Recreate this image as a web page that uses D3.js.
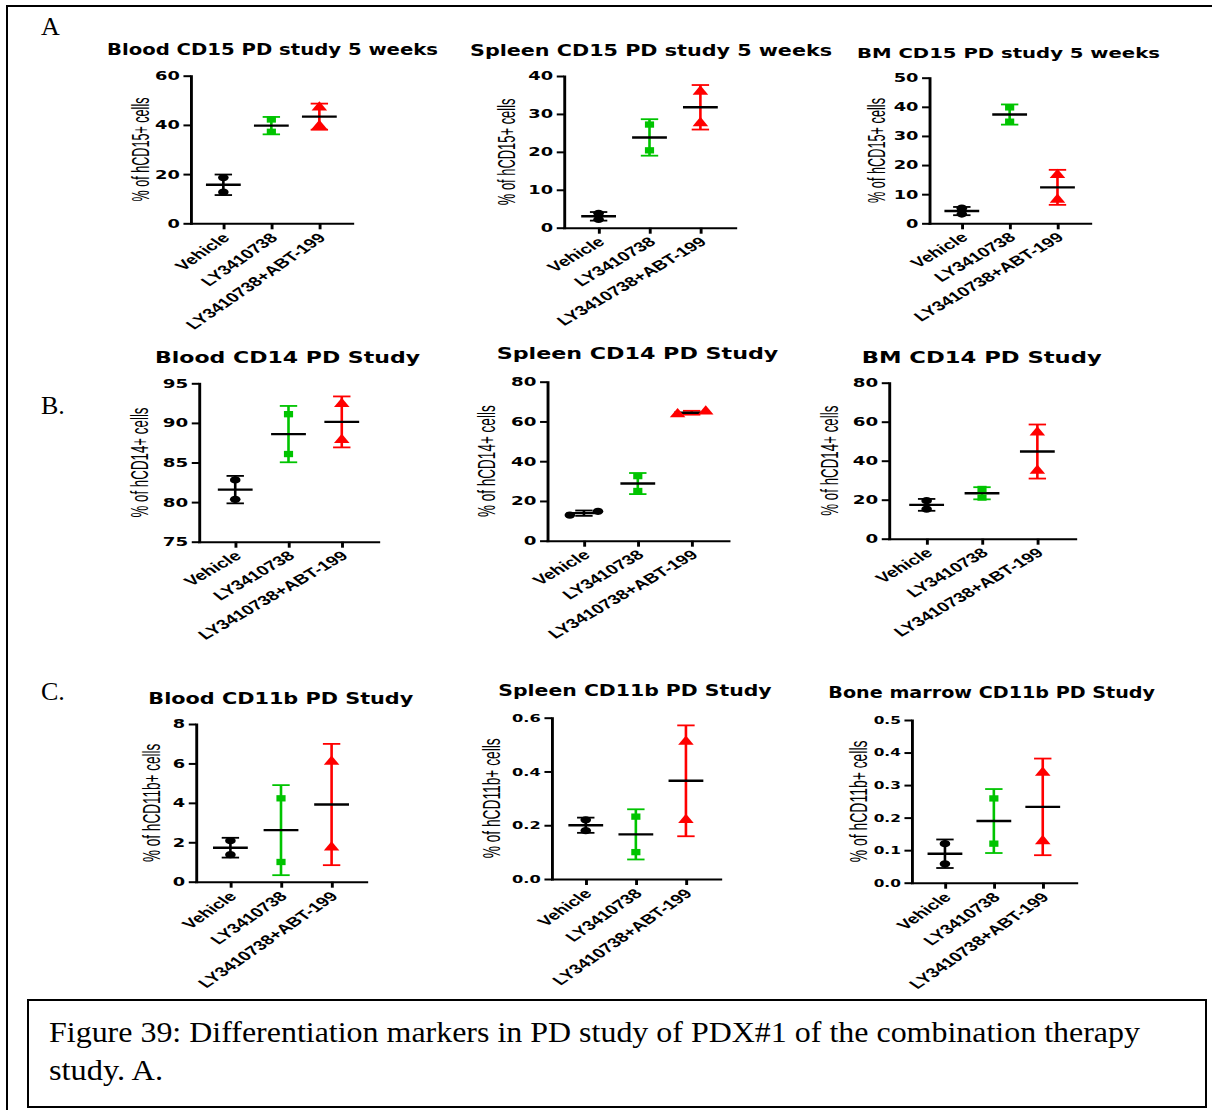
<!DOCTYPE html>
<html>
<head>
<meta charset="utf-8">
<script src="https://cdn.jsdelivr.net/npm/d3@7"></script>
<style>
  body { margin: 0; background: #fff; }
  svg { display: block; }
</style>
</head>
<body>
<script>
// ---- data -------------------------------------------------------------
const groups = ["Vehicle", "LY3410738", "LY3410738+ABT-199"];

const panelTitles = [
  "Blood CD15 PD study 5 weeks", "Spleen CD15 PD study 5 weeks", "BM CD15 PD study 5 weeks",
  "Blood CD14 PD Study", "Spleen CD14 PD Study", "BM CD14 PD Study",
  "Blood CD11b PD Study", "Spleen CD11b PD Study", "Bone marrow CD11b PD Study"
];

const yAxisTitles = [
  "% of hCD15+ cells", "% of hCD15+ cells", "% of hCD15+ cells",
  "% of hCD14+ cells", "% of hCD14+ cells", "% of hCD14+ cells",
  "% of hCD11b+ cells", "% of hCD11b+ cells", "% of hCD11b+ cells"
];

const yDomains = [[0, 60], [0, 40], [0, 50], [75, 95], [0, 80], [0, 80], [0, 8], [0, 0.6], [0, 0.5]];

const yTickValues = [
  [0, 20, 40, 60], [0, 10, 20, 30, 40], [0, 10, 20, 30, 40, 50],
  [75, 80, 85, 90, 95], [0, 20, 40, 60, 80], [0, 20, 40, 60, 80],
  [0, 2, 4, 6, 8], [0, 0.2, 0.4, 0.6], [0, 0.1, 0.2, 0.3, 0.4, 0.5]
];
const yTickDecimals = [0, 0, 0, 0, 0, 0, 0, 1, 1];

// two animals per group, one pair per panel
const vehicleValues = [
  [18.6, 12.7], [3.8, 2.2], [5.2, 3.2],
  [82.8, 80.35], [12.9, 14.8], [19.5, 15.2],
  [2.08, 1.37], [0.22, 0.18], [0.12, 0.058]
];
const ly3410738Values = [
  [42.2, 37.2], [27.2, 20.4], [39.8, 34.9],
  [91.1, 86.07], [32.5, 25.0], [25.5, 21.1],
  [4.23, 1.0], [0.232, 0.10], [0.259, 0.12]
];
const comboValues = [
  [47.1, 39.6], [35.9, 27.6], [16.6, 8.1],
  [92.4, 87.85], [63.7, 65.07], [54.5, 34.9],
  [6.09, 1.74], [0.511, 0.2194], [0.338, 0.128]
];

const captionLines = [
  "Figure 39: Differentiation markers in PD study of PDX#1 of the combination therapy",
  "study. A."
];
const sectionLetters = ["A", "B.", "C."];

// ---- layout -----------------------------------------------------------
const W = 1212, H = 1110;
const SX = 1.45;              // horizontal stretch of each graph
const groupColors = ["#000000", "#00c400", "#ff0000"];
const groupSymbols = [d3.symbolCircle, d3.symbolSquare, d3.symbolTriangle];
const symbolSizes = [42, 40, 50];

// ax: y-axis x, xe: x-axis end, yTop/y0: pixel of top/bottom of value range,
// tx/ty/tw/tfs: title centre, baseline, width, font size, tk: tick font size,
// ylx: y title baseline offset from axis, yll: y title length, rot: x label angle
const layouts = [
  {ax: 190.7, xe: 352,   yTop: 75.7,  y0: 223.3, tx: 272.5, ty: 55,    tw: 331,   tfs: 15.5, tk: 12.3, ylx: -41.7, yll: 104,   rot: -45},
  {ax: 564,   xe: 735,   yTop: 76,    y0: 227.7, tx: 651,   ty: 55.7,  tw: 362,   tfs: 16.5, tk: 12.3, ylx: -49,   yll: 106.7, rot: -40},
  {ax: 929.3, xe: 1090,  yTop: 77.7,  y0: 223.3, tx: 1008.5,ty: 57.5,  tw: 303,   tfs: 14,   tk: 12.3, ylx: -44.3, yll: 105,   rot: -40},
  {ax: 199,   xe: 378,   yTop: 383.3, y0: 541.7, tx: 287.5, ty: 362.7, tw: 265,   tfs: 16.5, tk: 12.6, ylx: -50.7, yll: 110,   rot: -40},
  {ax: 547.3, xe: 728.3, yTop: 381.7, y0: 540.7, tx: 637.5, ty: 358.5, tw: 281.7, tfs: 15,   tk: 12.6, ylx: -52.3, yll: 111.7, rot: -40},
  {ax: 889,   xe: 1075,  yTop: 382.7, y0: 538.7, tx: 981.7, ty: 363.3, tw: 240,   tfs: 16,   tk: 12.6, ylx: -50.7, yll: 110,   rot: -40},
  {ax: 196,   xe: 366,   yTop: 724,   y0: 881.7, tx: 280.8, ty: 704,   tw: 265,   tfs: 15,   tk: 12.3, ylx: -36,   yll: 118.3, rot: -45},
  {ax: 551.7, xe: 720,   yTop: 717.7, y0: 879,   tx: 635,   ty: 695.7, tw: 273.3, tfs: 15,   tk: 11.2, ylx: -51.7, yll: 120,   rot: -45},
  {ax: 911.7, xe: 1076,  yTop: 720,   y0: 882.7, tx: 991.7, ty: 698.3, tw: 326.7, tfs: 15,   tk: 10.6, ylx: -45,   yll: 121.7, rot: -45}
];

const svg = d3.select("body").append("svg")
  .attr("width", W).attr("height", H)
  .attr("viewBox", `0 0 ${W} ${H}`);

svg.append("rect").attr("width", W).attr("height", H).attr("fill", "#fff");

// outer frame (top and left edges)
svg.append("path")
  .attr("d", `M7,${H} V6 H${W}`)
  .attr("fill", "none").attr("stroke", "#000").attr("stroke-width", 2);

// section letters
const letterPos = [[41, 35], [41, 414], [41, 700]];
sectionLetters.forEach((t, i) => {
  svg.append("text")
    .attr("x", letterPos[i][0]).attr("y", letterPos[i][1])
    .attr("font-family", "Liberation Serif, Times New Roman, serif")
    .attr("font-size", 26).attr("fill", "#000").text(t);
});

// caption box
svg.append("rect")
  .attr("x", 28).attr("y", 1000).attr("width", 1178).attr("height", 107)
  .attr("fill", "none").attr("stroke", "#000").attr("stroke-width", 2);
svg.append("text").attr("x", 49).attr("y", 1042)
  .attr("font-family", "Liberation Serif, Times New Roman, serif")
  .attr("font-size", 29).attr("textLength", 1091).attr("lengthAdjust", "spacingAndGlyphs")
  .text(captionLines[0]);
svg.append("text").attr("x", 49).attr("y", 1080)
  .attr("font-family", "Liberation Serif, Times New Roman, serif")
  .attr("font-size", 29).attr("textLength", 114).attr("lengthAdjust", "spacingAndGlyphs")
  .text(captionLines[1]);

const seriesValues = [vehicleValues, ly3410738Values, comboValues];

layouts.forEach((L, i) => {
  // title, drawn in page coordinates
  svg.append("text")
    .attr("x", L.tx - L.tw / 2).attr("y", L.ty)
    .attr("font-family", "DejaVu Sans, sans-serif").attr("font-weight", "bold")
    .attr("font-size", L.tfs)
    .attr("textLength", L.tw).attr("lengthAdjust", "spacingAndGlyphs")
    .text(panelTitles[i]);

  const g = svg.append("g").attr("transform", `translate(${L.ax},0) scale(${SX},1)`);
  const innerW = (L.xe - L.ax) / SX;

  const x = d3.scalePoint().domain(groups).range([0, innerW]).padding(0.68);
  const y = d3.scaleLinear().domain(yDomains[i]).range([L.y0, L.yTop]);
  const fmt = d3.format(`.${yTickDecimals[i]}f`);

  // y axis
  const ya = g.append("g")
    .call(d3.axisLeft(y).tickValues(yTickValues[i]).tickFormat(fmt)
      .tickSize(5).tickSizeOuter(0).tickPadding(2.5));
  ya.select(".domain").attr("stroke-width", 2).attr("stroke-linecap", "square");
  ya.selectAll(".tick line").attr("stroke-width", 2);
  ya.selectAll(".tick text")
    .attr("font-family", "DejaVu Sans, sans-serif").attr("font-weight", "bold")
    .attr("font-size", L.tk).attr("fill", "#000");

  // x axis
  const xa = g.append("g").attr("transform", `translate(0,${L.y0})`)
    .call(d3.axisBottom(x).tickSize(6).tickSizeOuter(0));
  xa.select(".domain").attr("stroke-width", 2).attr("stroke-linecap", "square");
  xa.selectAll(".tick line").attr("stroke-width", 2);
  xa.selectAll(".tick text").remove();
  xa.selectAll(".tick").append("text")
    .attr("transform", `translate(4.5,15.5) rotate(${L.rot})`)
    .attr("text-anchor", "end")
    .attr("font-family", "Liberation Sans, Arial, sans-serif").attr("font-weight", "bold")
    .attr("font-size", 13.4).attr("fill", "#000")
    .text(d => d);

  // y axis title
  g.append("text")
    .attr("transform", `translate(${L.ylx / SX},${(L.y0 + L.yTop) / 2}) rotate(-90)`)
    .attr("text-anchor", "middle")
    .attr("font-family", "Liberation Sans, Arial, sans-serif")
    .attr("font-size", 16.5)
    .attr("textLength", L.yll).attr("lengthAdjust", "spacingAndGlyphs")
    .attr("x", 0).attr("y", 0)
    .text(yAxisTitles[i]);

  // groups: SD error bar, mean line, individual points
  groups.forEach((grp, k) => {
    const vals = seriesValues[k][i];
    const cx = x(grp);
    const m = d3.mean(vals), sd = d3.deviation(vals);
    const col = groupColors[k];
    const cap = 6;
    const eb = g.append("g").attr("stroke", col).attr("stroke-width", 1.8).attr("fill", "none");
    eb.append("line").attr("x1", cx).attr("x2", cx).attr("y1", y(m - sd)).attr("y2", y(m + sd));
    eb.append("line").attr("x1", cx - cap).attr("x2", cx + cap).attr("y1", y(m - sd)).attr("y2", y(m - sd));
    eb.append("line").attr("x1", cx - cap).attr("x2", cx + cap).attr("y1", y(m + sd)).attr("y2", y(m + sd));

    g.append("line")
      .attr("x1", cx - 12).attr("x2", cx + 12).attr("y1", y(m)).attr("y2", y(m))
      .attr("stroke", "#000").attr("stroke-width", 2.4);

    // points sharing nearly the same height are spread sideways
    const py = vals.map(v => y(v));
    const spread = Math.abs(py[0] - py[1]) < 5 ? 9.7 : 0;
    vals.forEach((v, j) => {
      const px = cx + (spread ? (j === 0 ? -spread : spread) : 0);
      g.append("path")
        .attr("d", d3.symbol().type(groupSymbols[k]).size(symbolSizes[k])())
        .attr("transform", `translate(${px},${y(v)})`)
        .attr("fill", col);
    });
  });
});
</script>
</body>
</html>
